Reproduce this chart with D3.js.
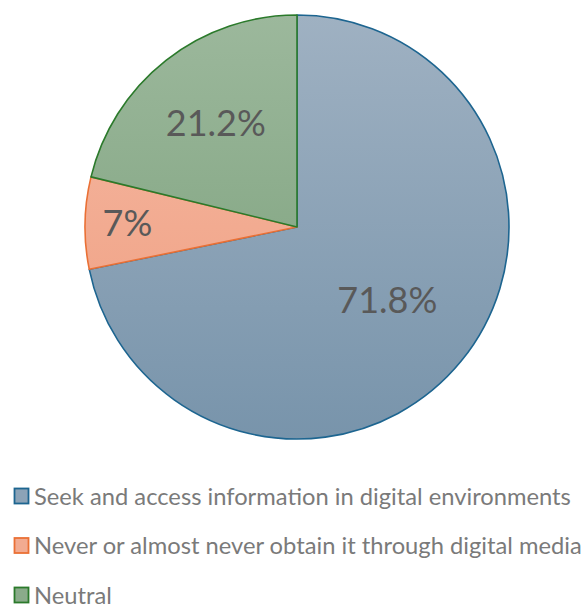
<!DOCTYPE html>
<html>
<head>
    <script src="https://d3js.org/d3.v7.min.js"></script>
    <style>
        body, html { margin: 0; padding: 0; background: #fff; overflow: hidden; }
        svg { display: block; }
        .label { font-family: Lato, "Noto Sans", sans-serif; fill: #595959; }
        .legend-text { font-family: Lato, "Noto Sans", sans-serif; fill: #7a7a7a; }
    </style>
</head>
<body>
<svg id="chart" width="587" height="610"></svg>
<script>
    // chart data
    const categories = [
        "Seek and access information in digital environments",
        "Never or almost never obtain it through digital media",
        "Neutral"
    ];
    const values = [71.8, 7, 21.2];
    const valueLabels = ["71.8%", "7%", "21.2%"];

    // colours per slice: gradient top, gradient bottom, outline
    const topColors = ["#9fb1c2", "#f5baa6", "#9cb89c"];
    const bottomColors = ["#7894ab", "#ef9c7c", "#789e78"];
    const strokeColors = ["#1d6590", "#ea7035", "#2b7a2b"];
    const labelRadius = [0.55, 0.8, 0.62];

    const cx = 297, cy = 227, radius = 212;

    const svg = d3.select("#chart");
    const defs = svg.append("defs");

    categories.forEach((c, i) => {
        const g = defs.append("linearGradient")
            .attr("id", "grad" + i)
            .attr("gradientUnits", "userSpaceOnUse")
            .attr("x1", 0).attr("y1", -radius)
            .attr("x2", 0).attr("y2", radius);
        g.append("stop").attr("offset", "0%").attr("stop-color", topColors[i]);
        g.append("stop").attr("offset", "100%").attr("stop-color", bottomColors[i]);
    });

    const pie = d3.pie().sort(null).value(d => d);
    const arcs = pie(values);

    const arc = d3.arc().innerRadius(0).outerRadius(radius);

    const g = svg.append("g").attr("transform", `translate(${cx},${cy})`);

    g.selectAll("path")
        .data(arcs)
        .enter().append("path")
        .attr("d", arc)
        .attr("fill", (d, i) => `url(#grad${i})`)
        .attr("stroke", (d, i) => strokeColors[i])
        .attr("stroke-width", 1.6)
        .attr("stroke-linejoin", "round");

    g.selectAll(".label")
        .data(arcs)
        .enter().append("text")
        .attr("class", "label")
        .attr("transform", (d, i) => {
            const r = radius * labelRadius[i];
            const a = d3.arc().innerRadius(r).outerRadius(r);
            return `translate(${a.centroid(d)})`;
        })
        .attr("text-anchor", "middle")
        .attr("dy", "0.35em")
        .style("font-size", "36px")
        .text((d, i) => valueLabels[i]);

    // legend
    const legendY = d3.scalePoint()
        .domain(categories)
        .range([496, 595]);

    const legend = svg.selectAll(".legend-item")
        .data(categories)
        .enter().append("g")
        .attr("class", "legend-item")
        .attr("transform", d => `translate(14,${legendY(d)})`);

    legend.append("rect")
        .attr("x", 0.5)
        .attr("y", -7.5)
        .attr("width", 14)
        .attr("height", 15)
        .attr("fill", (d, i) => d3.interpolateRgb(topColors[i], bottomColors[i])(0.5))
        .attr("stroke", (d, i) => strokeColors[i])
        .attr("stroke-width", 1.8);

    const texts = legend.append("text")
        .attr("class", "legend-text")
        .attr("x", 20)
        .attr("y", 0)
        .attr("dy", "0.36em")
        .style("font-size", "22px")
        .text(d => d);

    // shrink the font so the longest entry fits the same width as the reference
    let maxW = 0;
    texts.each(function () { maxW = Math.max(maxW, this.getComputedTextLength()); });
    if (maxW > 0) texts.style("font-size", (22 * 548 / maxW) + "px");
</script>
</body>
</html>
